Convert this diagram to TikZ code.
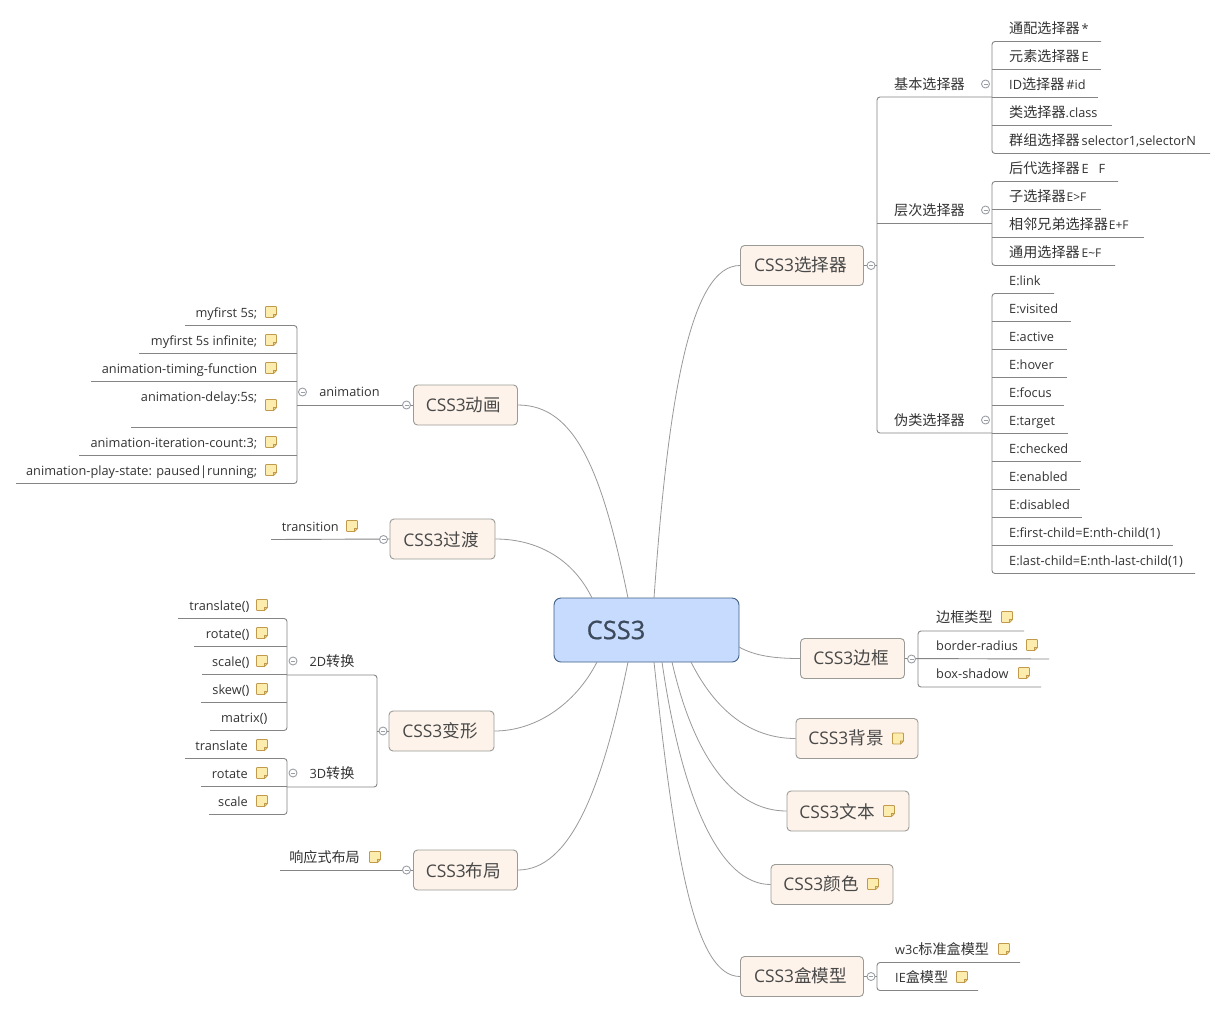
\documentclass[tikz,border=0pt]{standalone}
\usepackage{fontspec}
\setmainfont{Open Sans}
\newfontfamily\cjk{Noto Sans CJK SC}
\newfontfamily\semi[FakeBold=0.6]{Open Sans}
\newcommand{\C}[1]{{\cjk\fontsize{14.1}{16}\selectfont #1}}
\newcommand{\CB}[1]{{\cjk\fontsize{17.6}{19}\selectfont #1}}
\definecolor{linegray}{HTML}{858585}
\definecolor{curvegray}{HTML}{999999}
\definecolor{boxfill}{HTML}{FDF3EA}
\definecolor{boxedge}{HTML}{9A9A96}
\definecolor{rootfill}{HTML}{C6DBFD}
\definecolor{rootedge}{HTML}{3F5F85}
\definecolor{txt}{HTML}{333333}
\definecolor{toptxt}{HTML}{484848}
\definecolor{roottxt}{HTML}{3D4A5C}
\definecolor{noteedge}{HTML}{C29A4C}
\definecolor{notefill}{HTML}{FCEDAE}
\definecolor{circedge}{HTML}{9A9FA6}
\tikzset{
  x=1pt,y=-1pt,
  conn/.style={draw=linegray,line width=0.9pt},
  spine/.style={conn,rounded corners=3pt},
  curve/.style={draw=curvegray,line width=0.8pt},
  topic/.style={draw=boxedge,fill=boxfill,rounded corners=4pt,line width=0.9pt,inner sep=0pt},
  toptext/.style={inner sep=0pt,text=toptxt,font=\fontsize{17.4}{19}\selectfont},
  leaf/.style={inner sep=0pt,text=txt,text height=11pt,text depth=1pt,font=\fontsize{12.75}{16}\selectfont},
  leafL/.style={leaf,anchor=west},
  leafR/.style={leaf,anchor=east},
  leafC/.style={leaf},
  noteicon/.pic={
    \path[draw=noteedge,line width=0.9pt,fill=notefill,rounded corners=0.8pt]
      (-5.5,-5.5) -- (5.5,-5.5) -- (5.5,2.5) -- (2.5,5.5) -- (-5.5,5.5) -- cycle;
    \path[draw=noteedge,line width=0.6pt,fill=notefill!75!noteedge] (5.5,2.5) -- (2.5,2.5) -- (2.5,5.5) -- cycle;
  },
  collapse/.pic={
    \path[draw=circedge,fill=white,line width=0.9pt] (0,0) circle (4pt);
    \path[draw=circedge,line width=0.8pt] (-2,0) -- (2,0);
  }
}
\begin{document}
\begin{tikzpicture}
\useasboundingbox[fill=white] (0,0) rectangle (1226,1013);

% ---- topic boxes
\node[draw=rootedge,fill=rootfill,rounded corners=7pt,line width=0.9pt,minimum width=185pt,minimum height=64pt,inner sep=0pt] (root) at (646.5,630) {};
\node[inner sep=0pt,text=roottxt,font=\fontsize{25.5}{28}\selectfont\semi] (roott) at (616,630) {CSS3};

\foreach \n/\cx/\cy/\w/\tx/\ty/\lab in {
  sel/802/265.5/123/800.5/264.7/选择器,
  ani/465.5/405/104/463.5/405/动画,
  tra/442.5/539/105/441/539.5/过渡,
  trf/441.5/731/105/440/730.5/变形,
  lay/465.5/870/104/463.5/871/布局,
  bor/852.5/658.5/104/851/657.7/边框,
  bg/857/738.5/122/846/737.7/背景,
  txtb/848/811/122/837/811.5/文本,
  col/832/884.5/122/821/884/颜色,
  mod/802/976.5/123/800.5/975.7/盒模型}{
  \node[topic,minimum width=\w pt,minimum height=40pt] (b\n) at (\cx,\cy) {};
  \node[toptext] (t\n) at (\tx,\ty) {CSS3\CB{\lab}};
}

% ---- root connectors
\coordinate (r1) at (654,598); \coordinate (r2) at (628,598); \coordinate (r3) at (592,598);
\coordinate (r4) at (597,662); \coordinate (r5) at (628,662); \coordinate (r6) at (739,647);
\coordinate (r7) at (691,662); \coordinate (r8) at (672,662); \coordinate (r9) at (662,662);
\coordinate (r10) at (654,662);
\draw[curve] (r1) .. controls (668,400) and (690,265) .. (bsel.west);
\draw[curve] (r2) .. controls (602,470) and (575,405) .. (bani.east);
\draw[curve] (r3) .. controls (572,557) and (535,539) .. (btra.east);
\draw[curve] (r4) .. controls (575,705) and (535,731) .. (btrf.east);
\draw[curve] (r5) .. controls (602,790) and (570,870) .. (blay.east);
\draw[curve] (r6) .. controls (755,656) and (775,658.5) .. (bbor.west);
\draw[curve] (r7) .. controls (715,710) and (750,738.5) .. (bbg.west);
\draw[curve] (r8) .. controls (692,750) and (730,811) .. (btxtb.west);
\draw[curve] (r9) .. controls (682,800) and (720,884.5) .. (bcol.west);
\draw[curve] (r10) .. controls (675,860) and (695,976.5) .. (bmod.west);

% ---- selector subtree
\coordinate (selhub) at (877,265.5);
\coordinate (jb) at (992,97); \coordinate (jc) at (992,223.5); \coordinate (jw) at (992,433);
\coordinate (sb) at (877,97); \coordinate (sc) at (877,223.5); \coordinate (sw) at (877,433);
\draw[conn] (bsel.east) -- (selhub);
\draw[spine] (jb) -- (sb) -- (sw) -- (jw);
\draw[conn] (sc) -- (jc);
\node[inner sep=0pt,anchor=west,text=txt] (nb) at (894,84) {\C{基本选择器}};
\node[inner sep=0pt,anchor=west,text=txt] (nc) at (894,210) {\C{层次选择器}};
\node[inner sep=0pt,anchor=west,text=txt] (nw) at (894,420) {\C{伪类选择器}};
\pic at (871,265.5) {collapse};
\pic at (985.5,84) {collapse};
\pic at (985.5,210) {collapse};
\pic at (985.5,420) {collapse};

\foreach \n/\y/\e/\t in {
  a1/28/1101/{\C{通配选择器}\kern2pt*},
  a2/56/1101/{\C{元素选择器}\kern2pt E},
  a3/84/1098/{ID\C{选择器}\kern2pt\#id},
  a4/112/1112/{\C{类选择器}.class},
  a5/140/1210/{\C{群组选择器}\kern2pt selector1,selectorN},
  b1/168/1118/{\C{后代选择器}\kern2pt E\ \ \ F},
  b2/196/1101/{\C{子选择器}\kern1pt{\fontsize{12}{16}\selectfont E>F}},
  b3/224/1144/{\C{相邻兄弟选择器}\kern1pt{\fontsize{12}{16}\selectfont E+F}},
  b4/252/1115/{\C{通用选择器}\kern2pt{\fontsize{12}{16}\selectfont E\string~F}},
  c1/280/1054/{E:link},
  c2/308/1071/{E:visited},
  c3/336/1067/{E:active},
  c4/364/1067/{E:hover},
  c5/392/1064/{E:focus},
  c6/420/1068/{E:target},
  c7/448/1081/{E:checked},
  c8/476/1080/{E:enabled},
  c9/504/1082/{E:disabled},
  c10/532/1173/{E:first-child=E:nth-child(1)},
  c11/560/1195/{E:last-child=E:nth-last-child(1)}}{
  \node[leafL] (l\n) at (1009,\y) {\t};
  \coordinate (s\n) at (992,\y+13.5);
  \coordinate (u\n) at (\e,\y+13.5);
}
\draw[spine] (ua1) -- (sa1) -- (sa5) -- (ua5);
\foreach \n in {a2,a3,a4} \draw[conn] (s\n) -- (u\n);
\draw[spine] (ub1) -- (sb1) -- (sb4) -- (ub4);
\foreach \n in {b2,b3} \draw[conn] (s\n) -- (u\n);
\draw[spine] (uc1) -- (sc1) -- (sc11) -- (uc11);
\foreach \n in {c2,c3,c4,c5,c6,c7,c8,c9,c10} \draw[conn] (s\n) -- (u\n);

% ---- animation subtree
\coordinate (anis) at (297,405);
\node[leafC] (nani) at (349.5,391.5) {animation};
\draw[conn] (bani.west) -- (anis);
\pic at (406.5,405) {collapse};
\pic at (302.5,392) {collapse};
\foreach \n/\y/\ly/\ny/\e/\t in {
  1/312/325.5/312/185/{myfirst 5s;},
  2/340/353.5/340/139/{myfirst 5s infinite;},
  3/368/381.5/368/91/{animation-timing-function},
  4/396/427.5/405/131/{animation-delay:5s;},
  5/442/455.5/442/79/{animation-iteration-count:3;},
  6/470/483.5/470/16/{animation-play-state: paused|running;}}{
  \node[leafR] (an\n) at (257.5,\y) {\t};
  \coordinate (ans\n) at (297,\ly);
  \coordinate (ane\n) at (\e,\ly);
  \pic at (271,\ny) {noteicon};
}
\draw[spine] (ane1) -- (ans1) -- (ans6) -- (ane6);
\foreach \n in {2,3,4,5} \draw[conn] (ans\n) -- (ane\n);

% ---- transition
\coordinate (trae) at (271,539.5);
\draw[conn] (btra.west) -- (trae);
\pic at (383.5,539.5) {collapse};
\node[leafR] (ntra) at (339,526) {transition};
\pic at (352,526) {noteicon};

% ---- transform subtree
\coordinate (d2) at (377,675); \coordinate (d3) at (377,787);
\coordinate (d2l) at (287,675); \coordinate (d3l) at (287,787);
\coordinate (trfm) at (377,731);
\draw[spine] (d2l) -- (d2) -- (d3) -- (d3l);
\draw[conn] (btrf.west) -- (trfm);
\pic at (383,731) {collapse};
\node[inner sep=0pt,text=txt] (n2d) at (332,661) {\fontsize{12.75}{16}\selectfont 2D\C{转换}};
\node[inner sep=0pt,text=txt] (n3d) at (332,773) {\fontsize{12.75}{16}\selectfont 3D\C{转换}};
\pic at (293,661) {collapse};
\pic at (293,773) {collapse};
\foreach \n/\y/\r/\e/\t in {
  p1/605/249.5/178/{translate()},
  p2/633/249.5/194/{rotate()},
  p3/661/249.5/202/{scale()},
  p4/689/249.5/201/{skew()},
  p5/717/267.5/210/{matrix()},
  q1/745/248/185/{translate},
  q2/773/248/201/{rotate},
  q3/801/248/209/{scale}}{
  \node[leafR] (l\n) at (\r,\y) {\t};
  \coordinate (s\n) at (287,\y+13.5);
  \coordinate (u\n) at (\e,\y+13.5);
}
\foreach \y in {605,633,661,689,745,773,801} \pic at (262,\y) {noteicon};
\draw[spine] (up1) -- (sp1) -- (sp5) -- (up5);
\foreach \n in {p2,p3,p4} \draw[conn] (s\n) -- (u\n);
\draw[spine] (uq1) -- (sq1) -- (sq3) -- (uq3);
\draw[conn] (sq2) -- (uq2);

% ---- layout
\coordinate (laye) at (280,870);
\draw[conn] (blay.west) -- (laye);
\pic at (406.5,870) {collapse};
\node[inner sep=0pt,anchor=east,text=txt] (nlay) at (360,857) {\C{响应式布局}};
\pic at (375,857) {noteicon};

% ---- border subtree
\coordinate (bo1s) at (918,631); \coordinate (bo1e) at (1024,631);
\coordinate (bo2s) at (918,659); \coordinate (bo2e) at (1049,659);
\coordinate (bo3s) at (918,687); \coordinate (bo3e) at (1041,687);
\draw[spine] (bo1e) -- (bo1s) -- (bo3s) -- (bo3e);
\draw[conn] (bbor.east) -- (bo2e);
\pic at (911.5,659) {collapse};
\node[inner sep=0pt,anchor=west,text=txt] (nbo1) at (936,617) {\C{边框类型}};
\node[leafL] (nbo2) at (936,645) {border-radius};
\node[leafL] (nbo3) at (936,673) {box-shadow};
\pic at (1007,617) {noteicon};
\pic at (1032,645) {noteicon};
\pic at (1024,673) {noteicon};

% ---- notes on plain topics
\pic at (898,738.5) {noteicon};
\pic at (889,811) {noteicon};
\pic at (873,884) {noteicon};

% ---- box model subtree
\coordinate (mo1s) at (877,962.5); \coordinate (mo1e) at (1020,962.5);
\coordinate (mo2s) at (877,990.5); \coordinate (mo2e) at (978,990.5);
\coordinate (mom) at (877,976.5);
\draw[spine] (mo1e) -- (mo1s) -- (mo2s) -- (mo2e);
\draw[conn] (bmod.east) -- (mom);
\pic at (871,976.5) {collapse};
\node[inner sep=0pt,anchor=west,text=txt] (nmo1) at (895,949) {\fontsize{12.75}{16}\selectfont w3c\C{标准盒模型}};
\node[inner sep=0pt,anchor=west,text=txt] (nmo2) at (895,977) {\fontsize{12.75}{16}\selectfont IE\C{盒模型}};
\pic at (1004,949) {noteicon};
\pic at (962,977) {noteicon};
\end{tikzpicture}
\end{document}
